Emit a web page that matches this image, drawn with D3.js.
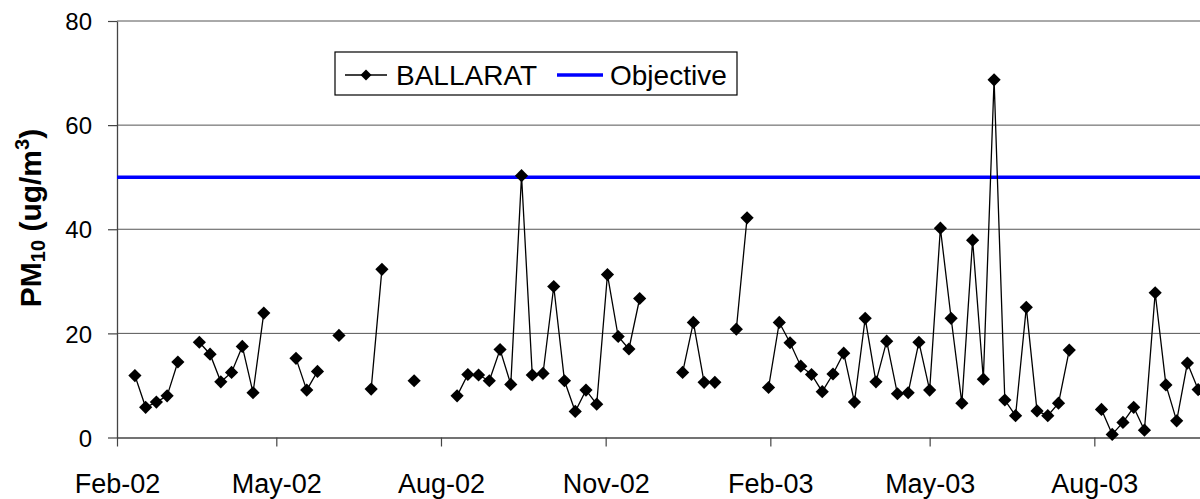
<!DOCTYPE html>
<html>
<head>
<meta charset="utf-8">
<script src="https://cdn.jsdelivr.net/npm/d3@7"></script>
<style>
  body { margin: 0; background: #fff; }
  svg { display: block; font-family: "Liberation Sans", Arial, sans-serif; }
</style>
</head>
<body>
<div class="chart"></div>
<script>
// PM10 samples, every 6th day; null = no sample (line breaks there)
const sampleDates = [
  "2002-02-11","2002-02-17","2002-02-23","2002-03-01","2002-03-07","2002-03-13","2002-03-19","2002-03-25",
  "2002-03-31","2002-04-06","2002-04-12","2002-04-18","2002-04-24","2002-04-30","2002-05-06","2002-05-12",
  "2002-05-18","2002-05-24","2002-05-30","2002-06-05","2002-06-11","2002-06-17","2002-06-23","2002-06-29",
  "2002-07-05","2002-07-11","2002-07-17","2002-07-23","2002-07-29","2002-08-04","2002-08-10","2002-08-16",
  "2002-08-22","2002-08-28","2002-09-03","2002-09-09","2002-09-15","2002-09-21","2002-09-27","2002-10-03",
  "2002-10-09","2002-10-15","2002-10-21","2002-10-27","2002-11-02","2002-11-08","2002-11-14","2002-11-20",
  "2002-11-26","2002-12-02","2002-12-08","2002-12-14","2002-12-20","2002-12-26","2003-01-01","2003-01-07",
  "2003-01-13","2003-01-19","2003-01-25","2003-01-31","2003-02-06","2003-02-12","2003-02-18","2003-02-24",
  "2003-03-02","2003-03-08","2003-03-14","2003-03-20","2003-03-26","2003-04-01","2003-04-07","2003-04-13",
  "2003-04-19","2003-04-25","2003-05-01","2003-05-07","2003-05-13","2003-05-19","2003-05-25","2003-05-31",
  "2003-06-06","2003-06-12","2003-06-18","2003-06-24","2003-06-30","2003-07-06","2003-07-12","2003-07-18",
  "2003-07-24","2003-07-30","2003-08-05","2003-08-11","2003-08-17","2003-08-23","2003-08-29","2003-09-04",
  "2003-09-10","2003-09-16","2003-09-22","2003-09-28"
];
const ballarat = [
  11.9, 5.8, 6.8, 8.0, 14.5, null, 18.3, 16.0,
  10.7, 12.5, 17.5, 8.6, 23.9, null, null, 15.2,
  9.1, 12.7, null, 19.6, null, null, 9.3, 32.3,
  null, null, 10.9, null, null, null, 8.0, 12.1,
  12.0, 10.9, 16.9, 10.2, 50.3, 12.0, 12.3, 29.0,
  10.9, 5.0, 9.1, 6.4, 31.3, 19.4, 17.0, 26.7,
  null, null, null, 12.5, 22.1, 10.6, 10.6, null,
  20.8, 42.2, null, 9.6, 22.1, 18.2, 13.7, 12.1,
  8.8, 12.2, 16.2, 6.8, 22.9, 10.7, 18.5, 8.4,
  8.6, 18.3, 9.1, 40.2, 22.9, 6.6, 37.9, 11.2,
  68.7, 7.2, 4.2, 25.0, 5.1, 4.2, 6.6, 16.8,
  null, null, 5.4, 0.6, 2.9, 5.8, 1.4, 27.8,
  10.1, 3.2, 14.3, 9.2
];
const objective = 50;
const xTicks = ["2002-02-01","2002-05-01","2002-08-01","2002-11-01","2003-02-01","2003-05-01","2003-08-01"];
const xDomain = ["2002-02-01","2003-11-01"];
const yTicks = [0, 20, 40, 60, 80];

const parseDate = d3.utcParse("%Y-%m-%d");
const data = sampleDates.map((d, i) => ({date: parseDate(d), value: ballarat[i]}));

const svg_width = 1200, svg_height = 499;
const margin = {top: 21, left: 117};
const plot_width = 1142;   // runs past the window edge, as in the original
const plot_height = 416.5;

const svg = d3.select(".chart").append("svg")
  .attr("width", svg_width).attr("height", svg_height);
const g = svg.append("g").attr("transform", `translate(${margin.left},${margin.top})`);

const xScale = d3.scaleUtc().domain(xDomain.map(parseDate)).range([0, plot_width]);
const yScale = d3.scaleLinear().domain([0, 80]).range([plot_height, 0]);

// gridlines
g.append("g").selectAll("line").data(yTicks.filter(d => d > 0)).join("line")
  .attr("x1", 0).attr("x2", plot_width)
  .attr("y1", d => yScale(d)).attr("y2", d => yScale(d))
  .attr("stroke", "#555").attr("stroke-width", 1);

// axes
const yAxis = d3.axisLeft(yScale).tickValues(yTicks).tickSizeInner(9).tickSizeOuter(0).tickPadding(16);
const yAxisDraw = g.append("g").call(yAxis);
const xAxis = d3.axisBottom(xScale).tickValues(xTicks.map(parseDate))
  .tickFormat(d3.utcFormat("%b-%y")).tickSizeInner(9).tickSizeOuter(0).tickPadding(27);
const xAxisDraw = g.append("g").attr("transform", `translate(0,${plot_height})`).call(xAxis);
[yAxisDraw, xAxisDraw].forEach(a => {
  a.select(".domain").attr("stroke", "#444").attr("stroke-width", 1.3);
  a.selectAll(".tick line").attr("stroke", "#444").attr("stroke-width", 1.2);
  a.selectAll("text").attr("fill", "#000")
    .attr("font-family", "'Liberation Sans', Arial, sans-serif");
});
yAxisDraw.selectAll("text").attr("font-size", 24).attr("dy", "0.36em");
xAxisDraw.selectAll("text").attr("font-size", 27);

// objective line
g.append("line")
  .attr("x1", 0).attr("x2", plot_width)
  .attr("y1", yScale(objective)).attr("y2", yScale(objective))
  .attr("stroke", "#0000ff").attr("stroke-width", 3.5);

// series
const line = d3.line().defined(d => d.value !== null)
  .x(d => xScale(d.date)).y(d => yScale(d.value));
g.append("path").datum(data).attr("d", line)
  .attr("fill", "none").attr("stroke", "#000").attr("stroke-width", 1.3);

const diamond = r => `M0,${-r}L${r},0L0,${r}L${-r},0Z`;
g.append("g").selectAll("path").data(data.filter(d => d.value !== null)).join("path")
  .attr("transform", d => `translate(${xScale(d.date)},${yScale(d.value)})`)
  .attr("d", diamond(6.6)).attr("fill", "#000");

// y title
const title = svg.append("text")
  .attr("transform", "translate(41,218) rotate(-90)")
  .attr("text-anchor", "middle").attr("font-size", 30).attr("font-weight", "bold");
title.append("tspan").text("PM");
title.append("tspan").attr("font-size", 20).attr("dy", 4).text("10");
title.append("tspan").attr("dy", -4).text(" (ug/m");
title.append("tspan").attr("font-size", 20).attr("dy", -12).text("3");
title.append("tspan").attr("dy", 12).text(")");

// legend
const legend = svg.append("g").attr("transform", "translate(335,52)");
legend.append("rect").attr("width", 402).attr("height", 43)
  .attr("fill", "#fff").attr("stroke", "#000").attr("stroke-width", 1.2);
legend.append("line").attr("x1", 10).attr("x2", 52).attr("y1", 23).attr("y2", 23)
  .attr("stroke", "#000").attr("stroke-width", 1.3);
legend.append("path").attr("transform", "translate(31,23)").attr("d", diamond(5.5)).attr("fill", "#000");
legend.append("text").attr("x", 61).attr("y", 33).attr("font-size", 28).text("BALLARAT");
legend.append("line").attr("x1", 222).attr("x2", 268).attr("y1", 23).attr("y2", 23)
  .attr("stroke", "#0000ff").attr("stroke-width", 3.5);
legend.append("text").attr("x", 275).attr("y", 33).attr("font-size", 28).text("Objective");
</script>
</body>
</html>
